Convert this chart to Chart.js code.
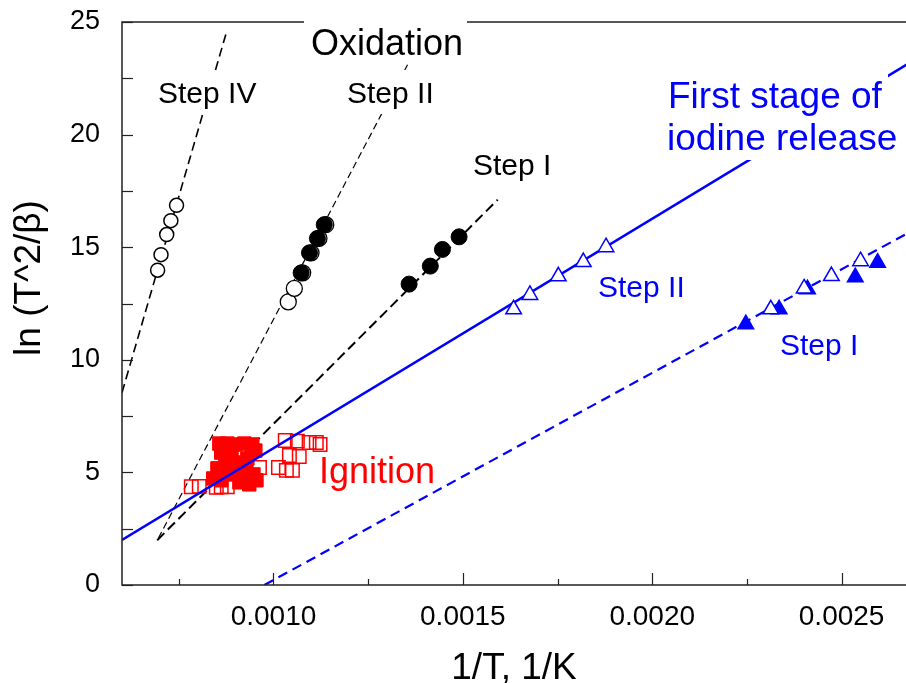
<!DOCTYPE html>
<html>
<head>
<meta charset="utf-8">
<script src="https://cdn.jsdelivr.net/npm/chart.js@4/dist/chart.umd.min.js"></script>
<style>
  html, body { margin: 0; padding: 0; background: #fff; }
  #c { display: block; }
</style>
</head>
<body>
<canvas id="c" width="906" height="683"></canvas>
<script>
// ln(T^2/beta) vs 1/T — Kissinger plots for oxidation / iodine release / ignition

// axis ticks
const xTicks = [0.00075, 0.0010, 0.00125, 0.0015, 0.00175, 0.0020, 0.00225, 0.0025];
const xLabeled = [0.0010, 0.0015, 0.0020, 0.0025];
const yTicks = [0, 2.5, 5, 7.5, 10, 12.5, 15, 17.5, 20, 22.5, 25];

// oxidation, step IV (open circles)
const oxIVx = [0.000694, 0.000703, 0.000718, 0.000729, 0.000744];
const oxIVy = [13.98, 14.67, 15.56, 16.18, 16.86];
// oxidation, step II (filled + open circles)
const oxIIx = [0.001073, 0.001095, 0.001116, 0.001134];
const oxIIy = [13.86, 14.75, 15.39, 16.0];
const oxIIopenX = [0.001039, 0.001055, 0.001077, 0.001099, 0.00112, 0.001138];
const oxIIopenY = [12.57, 13.17, 13.86, 14.75, 15.39, 16.0];
// oxidation, step I (filled circles)
const oxIx = [0.001358, 0.001414, 0.001446, 0.001490];
const oxIy = [13.36, 14.16, 14.9, 15.46];

// iodine release, step II (open triangles)
const ioIIx = [0.001634, 0.001677, 0.001752, 0.001818, 0.001878];
const ioIIy = [12.24, 12.88, 13.71, 14.34, 15.0];
// iodine release, step I (filled and open triangles)
const ioIx = [0.002247, 0.002335, 0.00241, 0.002536, 0.002595];
const ioIy = [11.58, 12.24, 13.13, 13.67, 14.31];
const ioIopenX = [0.002313, 0.002401, 0.002473, 0.00255];
const ioIopenY = [12.24, 13.17, 13.72, 14.38];

// ignition (open and filled squares)
const ignOpenX = [0.000783, 0.000804, 0.000849, 0.000862, 0.000878, 0.000963, 0.001013, 0.001034,
  0.00105, 0.001042, 0.001068, 0.001031, 0.001063, 0.001094, 0.001113, 0.001123];
const ignOpenY = [4.36, 4.38, 4.34, 4.36, 4.36, 5.22, 5.22, 5.09,
  5.09, 5.75, 5.71, 6.42, 6.39, 6.33, 6.33, 6.24];
const ignFillX = [0.000857, 0.000878, 0.000899, 0.000923, 0.000944, 0.000952, 0.000862, 0.000889,
  0.000931, 0.00091, 0.000873, 0.000852, 0.000867, 0.000894, 0.000926, 0.000947, 0.000955,
  0.000841, 0.000862, 0.00091, 0.000936];
const ignFillY = [6.28, 6.28, 6.24, 6.28, 6.24, 5.97, 5.88, 5.80,
  5.62, 5.44, 5.44, 5.18, 5.0, 4.91, 5.0, 4.91, 4.65,
  4.73, 4.65, 4.56, 4.47];

// fitted lines (end points)
const fitIVx = [0.0006, 0.000876], fitIVy = [8.54, 24.56];
const fitOxIIx = [0.000696, 0.00136], fitOxIIy = [2.08, 23.3];
const fitOxIx = [0.000693, 0.001592], fitOxIy = [1.99, 17.11];
const fitIoIIx = [0.0006, 0.0027], fitIoIIy = [2.0, 23.4];
const fitIoIx = [0.000976, 0.0027], fitIoIy = [0, 15.86];

const FONT = "'Liberation Sans', Arial, sans-serif";
const BLUE = '#0000ff', RED = '#ff0000', BLACK = '#000000';

function pts(xs, ys) { return xs.map((x, i) => ({ x, y: ys[i] })); }

function lineDs(xs, ys, color, width, dash) {
  return { data: pts(xs, ys), showLine: true, borderColor: color, borderWidth: width,
    borderDash: dash, pointRadius: 0, fill: false };
}
function markDs(xs, ys, style, radius, border, bg, width) {
  return { data: pts(xs, ys), showLine: false, pointStyle: style, pointRadius: radius,
    borderColor: border, backgroundColor: bg, pointBorderWidth: width, borderWidth: width };
}

// text annotations: [text, x, baseline y, size, color, white box]
const notes = [
  ['Oxidation', 311, 55, 36, BLACK, [304, 8, 467, 62]],
  ['Step IV', 158, 103, 30, BLACK, [152, 74, 262, 114]],
  ['Step II', 347, 103, 30, BLACK, [341, 70, 440, 114]],
  ['Step I', 473, 175, 30, BLACK, null],
  ['First stage of', 668, 108, 37, BLUE, [660, 74, 888, 160]],
  ['iodine release', 667, 150, 37, BLUE, null],
  ['Step II', 598, 297, 30, BLUE, null],
  ['Step I', 780, 355, 30, BLUE, null],
  ['Ignition', 319, 483, 36, RED, null],
];

const frame = {
  id: 'frame',
  afterDatasetsDraw(chart) {
    const { ctx, chartArea: a, scales: { x, y } } = chart;
    ctx.save();
    ctx.strokeStyle = '#222';
    ctx.lineWidth = 1.5;
    ctx.beginPath();
    ctx.moveTo(a.right, a.top); ctx.lineTo(a.left, a.top);
    ctx.lineTo(a.left, a.bottom); ctx.lineTo(a.right, a.bottom);
    ctx.stroke();
    ctx.lineWidth = 1.2;
    xTicks.forEach(v => {
      const px = Math.round(x.getPixelForValue(v)) + 0.5;
      const len = xLabeled.includes(v) ? 12 : 6;
      ctx.beginPath(); ctx.moveTo(px, a.bottom); ctx.lineTo(px, a.bottom - len); ctx.stroke();
    });
    yTicks.forEach(v => {
      const py = Math.round(y.getPixelForValue(v)) + 0.5;
      ctx.beginPath(); ctx.moveTo(a.left, py); ctx.lineTo(a.left + 11, py); ctx.stroke();
    });
    notes.forEach(([t, nx, ny, size, color, box]) => {
      if (box) {
        ctx.fillStyle = '#fff';
        ctx.fillRect(box[0], box[1], box[2] - box[0], box[3] - box[1]);
      }
    });
    notes.forEach(([t, nx, ny, size, color]) => {
      ctx.fillStyle = color;
      ctx.font = size + 'px ' + FONT;
      ctx.textAlign = 'left';
      ctx.textBaseline = 'alphabetic';
      ctx.fillText(t, nx, ny);
    });
    // y axis title, rotated
    ctx.translate(30, 278);
    ctx.rotate(-Math.PI / 2);
    ctx.fillStyle = BLACK;
    ctx.font = '37px ' + FONT;
    ctx.textAlign = 'center';
    ctx.textBaseline = 'middle';
    ctx.fillText('ln (T^2/β)', 0, 0);
    ctx.restore();
  }
};

new Chart(document.getElementById('c'), {
  type: 'scatter',
  data: {
    datasets: [
      markDs(ioIIx, ioIIy, 'triangle', 9, BLUE, '#fff', 1.5),
      markDs(ioIopenX, ioIopenY, 'triangle', 9, BLUE, '#fff', 1.5),
      markDs(ioIx, ioIy, 'triangle', 9, BLUE, BLUE, 1.5),
      lineDs(fitIoIIx, fitIoIIy, BLUE, 2.5, []),
      lineDs(fitIoIx, fitIoIy, BLUE, 2.2, [10, 6]),
      markDs(ignOpenX, ignOpenY, 'rect', 9.5, RED, 'rgba(0,0,0,0)', 1.5),
      markDs(ignFillX, ignFillY, 'rect', 9.5, RED, RED, 1),
      markDs(oxIx, oxIy, 'circle', 8, BLACK, BLACK, 1),
      markDs(oxIIx, oxIIy, 'circle', 8, BLACK, BLACK, 1),
      markDs(oxIIopenX, oxIIopenY, 'circle', 8, BLACK, '#fff', 1.3),
      markDs(oxIVx, oxIVy, 'circle', 7, BLACK, '#fff', 1.5),
      lineDs(fitIVx, fitIVy, BLACK, 1.6, [9, 5]),
      lineDs(fitOxIIx, fitOxIIy, BLACK, 1.2, [7, 4]),
      lineDs(fitOxIx, fitOxIy, BLACK, 2, [10, 5]),
    ]
  },
  options: {
    responsive: false,
    animation: false,
    devicePixelRatio: 1,
    layout: { autoPadding: false, padding: { top: 22, right: 0, left: 0, bottom: 0 } },
    plugins: { legend: { display: false }, tooltip: { enabled: false } },
    scales: {
      x: {
        type: 'linear', min: 0.0006, max: 0.00267,
        afterBuildTicks: s => { s.ticks = xTicks.map(v => ({ value: v })); },
        afterFit: s => { s.height = 98; s.paddingLeft = 0; s.paddingRight = 0; },
        grid: { display: false, drawTicks: false },
        border: { display: false },
        ticks: {
          autoSkip: false, maxRotation: 0, padding: 15, color: BLACK,
          font: { family: FONT, size: 28 },
          callback: v => xLabeled.includes(v) ? v.toFixed(4) : ''
        },
        title: { display: true, text: '1/T, 1/K', color: BLACK, font: { family: FONT, size: 37 }, padding: { top: 14, bottom: -8 } }
      },
      y: {
        type: 'linear', min: 0, max: 25,
        afterBuildTicks: s => { s.ticks = yTicks.map(v => ({ value: v })); },
        afterFit: s => { s.width = 122; s.paddingTop = 0; s.paddingBottom = 0; },
        grid: { display: false, drawTicks: false },
        border: { display: false },
        ticks: {
          autoSkip: false, padding: 22, color: BLACK,
          font: { family: FONT, size: 27 },
          callback: v => v % 5 === 0 ? String(v) : ''
        }
      }
    }
  },
  plugins: [frame]
});
</script>
</body>
</html>
